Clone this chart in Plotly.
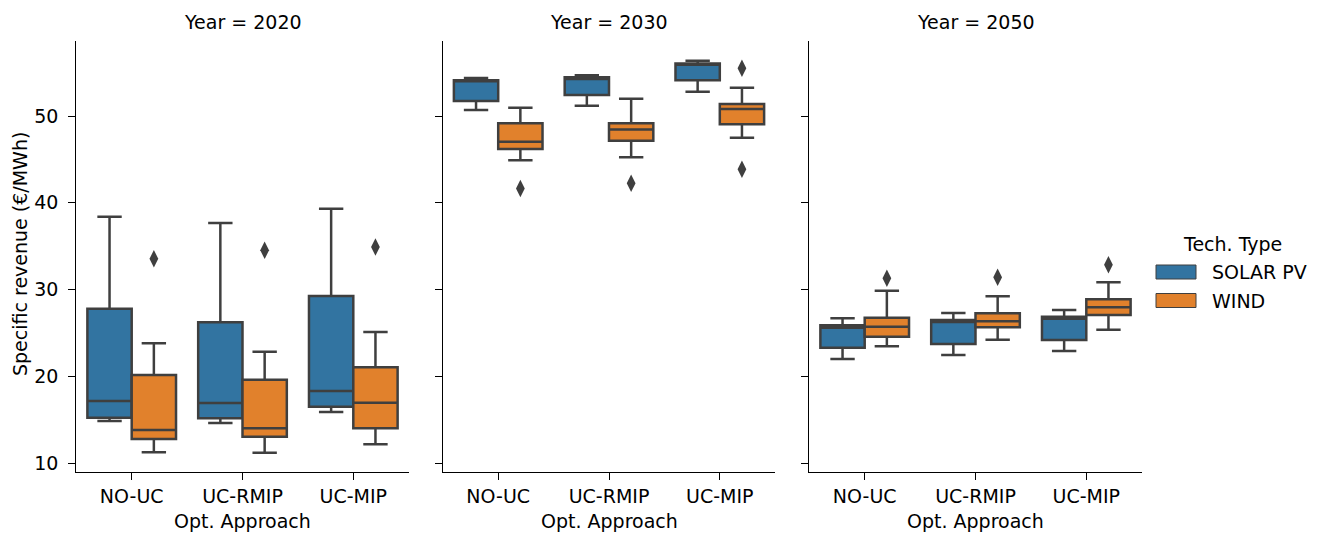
import plotly.graph_objects as go
from plotly.subplots import make_subplots

# Categories
years = [2020, 2030, 2050]
approaches = ["NO-UC", "UC-RMIP", "UC-MIP"]
techs = ["SOLAR PV", "WIND"]

# Box statistics, one row per year, one column per approach (EUR/MWh)
solar_lower = [[14.84, 14.61, 15.88], [50.69, 51.19, 52.81], [21.99, 22.45, 22.91]]
solar_q1 = [[15.22, 15.15, 16.49], [51.73, 52.42, 54.12], [23.29, 23.72, 24.18]]
solar_median = [[17.15, 16.92, 18.30], [54.00, 54.28, 55.92], [25.60, 26.25, 26.64]]
solar_q3 = [[27.79, 26.22, 29.25], [54.12, 54.46, 56.07], [25.87, 26.48, 26.87]]
solar_upper = [[38.39, 37.67, 39.32], [54.38, 54.69, 56.38], [26.68, 27.29, 27.64]]
solar_outliers = [[[], [], []], [[], [], []], [[], [], []]]

wind_lower = [[11.23, 11.19, 12.15], [44.89, 45.24, 47.51], [23.45, 24.21, 25.37]]
wind_q1 = [[12.77, 13.04, 14.00], [46.20, 47.15, 49.05], [24.56, 25.64, 27.06]]
wind_median = [[13.80, 14.00, 16.95], [47.04, 48.46, 50.81], [25.72, 26.33, 27.95]]
wind_q3 = [[20.14, 19.60, 21.03], [49.16, 49.16, 51.38], [26.75, 27.26, 28.87]]
wind_upper = [[23.80, 22.83, 25.10], [50.96, 52.00, 53.26], [29.86, 29.22, 30.83]]
wind_outliers = [[[33.55], [34.52], [34.90]], [[41.66], [42.24], [55.50, 43.86]],
                 [[31.29], [31.41], [32.86]]]

y_ticks = [10, 20, 30, 40, 50]

# Styling
colors = {"SOLAR PV": "#3274a1", "WIND": "#e1812c"}
edge = "#3f3f3f"
font_family = "DejaVu Sans"
fs = 19
W, H = 1320, 534

stats = {
    "SOLAR PV": (solar_lower, solar_q1, solar_median, solar_q3, solar_upper, solar_outliers),
    "WIND": (wind_lower, wind_q1, wind_median, wind_q3, wind_upper, wind_outliers),
}
hue_offset = {"SOLAR PV": -0.2, "WIND": 0.2}
box_width = 0.4

fig = make_subplots(rows=1, cols=3, shared_yaxes=True)

for col, year in enumerate(years, start=1):
    yi = col - 1
    for tech in techs:
        lo, q1, med, q3, up, outs = stats[tech]
        xs = [i + hue_offset[tech] for i in range(len(approaches))]
        fig.add_trace(go.Box(
            x=xs, q1=q1[yi], median=med[yi], q3=q3[yi],
            lowerfence=lo[yi], upperfence=up[yi],
            width=box_width, whiskerwidth=0.55,
            fillcolor=colors[tech], line=dict(color=edge, width=2.5),
            boxpoints=False, showlegend=False, name=tech,
        ), row=1, col=col)
        ox, oy = [], []
        for i, vals in enumerate(outs[yi]):
            for v in vals:
                ox.append(i + hue_offset[tech])
                oy.append(v)
        if ox:
            fig.add_trace(go.Scatter(
                x=ox, y=oy, mode="markers", showlegend=False,
                marker=dict(symbol="diamond-tall", size=12.5, color=edge,
                            line=dict(width=0)),
            ), row=1, col=col)

# Panel geometry in pixels
panel_left = [76.3, 442.8, 809.3]
panel_w = 332.4
y_bot, y_top = 472.3, 41.0

def px_x(x):
    return x / W

def px_y(y):
    return (H - y) / H

axis_common = dict(showline=True, linecolor="black", linewidth=1.25,
                   ticks="outside", ticklen=7, tickwidth=1.25, tickcolor="black",
                   showgrid=False, zeroline=False,
                   tickfont=dict(family=font_family, size=fs, color="black"))

for k in range(3):
    sx = "" if k == 0 else str(k + 1)
    fig.layout["xaxis" + sx].update(
        domain=[px_x(panel_left[k]), px_x(panel_left[k] + panel_w)],
        range=[-0.5, 2.5], tickmode="array",
        tickvals=list(range(len(approaches))), ticktext=approaches,
        **axis_common)
    fig.layout["yaxis" + sx].update(
        domain=[px_y(y_bot), px_y(y_top)], range=[8.93, 58.65],
        tickmode="array", tickvals=y_ticks,
        showticklabels=(k == 0), ticklabelstandoff=6,
        **axis_common)

annotations = []
for k, year in enumerate(years):
    cx = panel_left[k] + panel_w / 2
    annotations.append(dict(text=f"Year = {year}", x=px_x(cx), y=px_y(22),
                            xref="paper", yref="paper", showarrow=False,
                            xanchor="center", yanchor="middle",
                            font=dict(family=font_family, size=fs, color="black")))
    annotations.append(dict(text="Opt. Approach", x=px_x(cx), y=px_y(521),
                            xref="paper", yref="paper", showarrow=False,
                            xanchor="center", yanchor="middle",
                            font=dict(family=font_family, size=fs, color="black")))
annotations.append(dict(text="Specific revenue (€/MWh)", x=px_x(20), y=px_y(254),
                        xref="paper", yref="paper", showarrow=False, textangle=-90,
                        xanchor="center", yanchor="middle",
                        font=dict(family=font_family, size=fs, color="black")))

# Legend: title, colour patches and labels
annotations.append(dict(text="Tech. Type", x=px_x(1232), y=px_y(244),
                        xref="paper", yref="paper", showarrow=False,
                        xanchor="center", yanchor="middle",
                        font=dict(family=font_family, size=fs, color="black")))
shapes = []
legend_rows = [272, 300.5]
for tech, cy in zip(techs, legend_rows):
    shapes.append(dict(type="rect", xref="paper", yref="paper",
                       x0=px_x(1156), x1=px_x(1196), y0=px_y(cy - 7), y1=px_y(cy + 7),
                       fillcolor=colors[tech], line=dict(color=edge, width=1)))
    annotations.append(dict(text=tech, x=px_x(1210), y=px_y(cy),
                            xref="paper", yref="paper", showarrow=False,
                            xanchor="left", yanchor="middle",
                            font=dict(family=font_family, size=fs, color="black")))

fig.update_layout(
    width=W, height=H,
    margin=dict(l=0, r=0, t=0, b=0),
    paper_bgcolor="white", plot_bgcolor="white",
    annotations=annotations, shapes=shapes,
    font=dict(family=font_family, size=fs, color="black"),
)

fig.write_html("out.html")
